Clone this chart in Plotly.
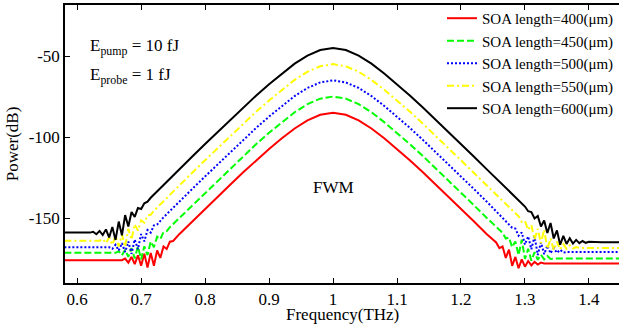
import plotly.graph_objects as go

freq = [0.58, 0.60, 0.62,
        0.625, 0.63, 0.635, 0.64, 0.645, 0.65, 0.655, 0.66, 0.665, 0.67, 0.675, 0.68, 0.685,
        0.69, 0.695, 0.70, 0.705, 0.71, 0.715, 0.72, 0.725, 0.73, 0.735, 0.74, 0.745, 0.75,
        0.76, 0.78, 0.80, 0.82, 0.84, 0.86, 0.88, 0.90, 0.92, 0.94, 0.96, 0.98, 1.00,
        1.02, 1.04, 1.06, 1.08, 1.10, 1.12, 1.14, 1.16, 1.18, 1.20, 1.22, 1.24,
        1.25, 1.255, 1.26, 1.265, 1.27, 1.275, 1.28, 1.285, 1.29, 1.295, 1.30, 1.305, 1.31,
        1.315, 1.32, 1.325, 1.33, 1.335, 1.34, 1.345, 1.35, 1.355, 1.36, 1.365, 1.37, 1.375,
        1.38, 1.385, 1.39, 1.395, 1.40,
        1.42, 1.45]

power_400 = [-176, -176, -176,
             -176, -176, -176, -176, -176, -176, -176, -176, -176, -176, -175, -177.5, -174,
             -178.5, -173, -179.5, -172, -180.5, -171.5, -179.5, -170, -174.6, -167.6, -169.1, -164.6, -164.2,
             -159.8, -152.0, -144.3, -136.7, -129.1, -121.6, -114.3, -107.4, -100.8, -94.7, -89.7, -86.3, -85,
             -86.3, -89.7, -94.7, -100.8, -107.4, -114.3, -121.6, -129.1, -136.7, -144.3, -152.0, -159.8,
             -163.7, -165.1, -168.6, -167.6, -174.6, -169.5, -179.5, -174, -181, -175.5, -180, -176.5, -179.2,
             -177, -178.7, -177.5, -178, -178, -178, -178, -178, -178, -178, -178, -178, -178,
             -178, -178, -178, -178, -178,
             -178, -178]

power_450 = [-171.5, -171.5, -171.5,
             -171.5, -171.5, -171.5, -171.5, -171.5, -171.5, -171.5, -171.5, -170.5, -173, -169.5, -174, -168.5,
             -175, -167.5, -175.5, -167.4, -172.9, -164.5, -168, -161.5, -163.1, -158.6, -158.1, -155.6, -153.7,
             -149.8, -142.0, -134.3, -126.7, -119.1, -111.6, -104.3, -97.4, -90.8, -84.7, -79.7, -76.3, -75,
             -76.3, -79.7, -84.7, -90.8, -97.4, -104.3, -111.6, -119.1, -126.7, -134.3, -142.0, -149.8,
             -153.7, -155.6, -157.6, -159.1, -162.6, -162, -168, -164.5, -172.9, -163.4, -175.2, -169, -176.3,
             -171, -175.8, -172.6, -175.5, -173.4, -175.3, -175, -175, -175, -175, -175, -175, -175,
             -175, -175, -175, -175, -175,
             -175, -175]

power_500 = [-168, -168, -168,
             -168, -168, -168, -168, -168, -168, -169, -166.5, -170, -165.5, -171, -164.5, -172,
             -163.3, -169.3, -159.9, -164.4, -157.4, -159, -154.5, -154, -151.6, -149.6, -147.6, -145.6, -143.7,
             -139.8, -132.0, -124.3, -116.7, -109.1, -101.6, -94.3, -87.4, -80.8, -74.7, -69.7, -66.3, -65,
             -66.3, -69.7, -74.7, -80.8, -87.4, -94.3, -101.6, -109.1, -116.7, -124.3, -132.0, -139.8,
             -143.7, -145.6, -147.6, -149.6, -151.6, -153.5, -156, -156.5, -160.9, -158.9, -166.4, -161.3, -169.3,
             -161.3, -172.8, -165, -172.3, -167, -171.8, -168.6, -171.5, -169.6, -171.3, -171, -171, -171,
             -171, -171, -171, -171, -171,
             -171, -171]

power_550 = [-164, -164, -164,
             -164, -164, -164, -163, -165.5, -162, -166.5, -161, -167.5, -160, -167.7, -156.7, -163.3,
             -153.8, -157.8, -151.4, -152.9, -148.4, -148, -145.5, -143.5, -141.6, -139.6, -137.6, -135.6, -133.7,
             -129.8, -122.0, -114.3, -106.7, -99.1, -91.6, -84.3, -77.4, -70.8, -64.7, -59.7, -56.3, -55,
             -56.3, -59.7, -64.7, -70.8, -77.4, -84.3, -91.6, -99.1, -106.7, -114.3, -122.0, -129.8,
             -133.7, -135.6, -137.6, -139.6, -141.6, -143.5, -145.5, -147.5, -148.9, -152.4, -151.9, -157.3, -154.3,
             -163.3, -156.7, -165.5, -157.2, -169, -162.5, -169.8, -164.5, -169.3, -166.1, -169, -166.9, -168.8,
             -167.9, -168.5, -168.5, -168.5, -168.5,
             -168.5, -168.5]

power_600 = [-159, -159, -159,
             -158.5, -160, -158, -160.5, -157, -162, -155.5, -163.5, -152.2, -160.7, -148.2, -155.2, -146.3,
             -149.3, -143.8, -144.4, -140.9, -139.9, -137.5, -135.5, -133.5, -131.6, -129.6, -127.6, -125.6, -123.7,
             -119.8, -112.0, -104.3, -96.7, -89.1, -81.6, -74.3, -67.4, -60.8, -54.7, -49.7, -46.3, -45,
             -46.3, -49.7, -54.7, -60.8, -67.4, -74.3, -81.6, -89.1, -96.7, -104.3, -112.0, -119.8,
             -123.7, -125.6, -127.6, -129.6, -131.6, -133.5, -135.5, -137.5, -139.4, -141.4, -142.9, -145.8, -146.3,
             -150.3, -148.7, -155.2, -151.5, -159.2, -153.1, -162.6, -157.6, -166.5, -161, -166, -162.5, -165.8,
             -163.5, -165.5, -164.2, -165.3, -164.7,
             -165, -165]

series_names = ["SOA length=400(\u03bcm)", "SOA length=450(\u03bcm)", "SOA length=500(\u03bcm)",
                "SOA length=550(\u03bcm)", "SOA length=600(\u03bcm)"]
series_values = [power_400, power_450, power_500, power_550, power_600]
series_colors = ["#ff0000", "#00ff00", "#0000ff", "#ffff00", "#000000"]
series_dashes = ["solid", "7px,3px", "2px,2px", "7px,3px,2px,3px", "solid"]

x_tick_vals = [0.6, 0.7, 0.8, 0.9, 1.0, 1.1, 1.2, 1.3, 1.4]
x_tick_text = ["0.6", "0.7", "0.8", "0.9", "1", "1.1", "1.2", "1.3", "1.4"]
y_tick_vals = [-150, -100, -50]
y_tick_text = ["-150", "-100", "-50"]

fig = go.Figure()
for name, vals, col, dash in zip(series_names, series_values, series_colors, series_dashes):
    fig.add_trace(go.Scatter(x=freq, y=vals, mode="lines", name=name,
                             line=dict(color=col, width=2, dash=dash)))

font_family = "Liberation Serif"
fig.update_layout(
    width=619, height=327,
    margin=dict(l=65, r=0, t=5, b=44),
    paper_bgcolor="white", plot_bgcolor="white",
    font=dict(family=font_family, color="black", size=17),
    showlegend=True,
    legend=dict(x=1.0, xanchor="right", y=1.011, yanchor="top",
                bgcolor="rgba(0,0,0,0)", font=dict(size=15, family=font_family),
                tracegroupgap=0),
    xaxis=dict(range=[0.581, 1.447], tickvals=x_tick_vals, ticktext=x_tick_text,
               ticks="inside", ticklen=5, tickwidth=1, tickcolor="black",
               showline=True, linecolor="black", linewidth=1.5, mirror="ticks",
               showgrid=False, zeroline=False, tickfont=dict(size=17, family=font_family),
               automargin=False),
    yaxis=dict(range=[-190.1, -18.5], tickvals=y_tick_vals, ticktext=y_tick_text,
               ticks="inside", ticklen=5, tickwidth=1, tickcolor="black",
               showline=True, linecolor="black", linewidth=1.5, mirror=False,
               showgrid=False, zeroline=False, tickfont=dict(size=17, family=font_family),
               automargin=False,
               title=dict(text="Power(dB)", font=dict(size=17, family=font_family), standoff=6)),
)

fig.add_annotation(x=0.5, y=-0.112, xref="paper", yref="paper", xanchor="center", yanchor="middle",
                   text="Frequency(THz)", showarrow=False,
                   font=dict(size=17, family=font_family))
fig.add_annotation(x=0.617, y=-44.5, xref="x", yref="y", xanchor="left", yanchor="middle",
                   text="E<sub>pump</sub> = 10 fJ", showarrow=False,
                   font=dict(size=17, family=font_family))
fig.add_annotation(x=0.617, y=-62.5, xref="x", yref="y", xanchor="left", yanchor="middle",
                   text="E<sub>probe</sub> = 1 fJ", showarrow=False,
                   font=dict(size=17, family=font_family))
fig.add_annotation(x=1.0, y=-131, xref="x", yref="y", xanchor="center", yanchor="middle",
                   text="FWM", showarrow=False, font=dict(size=17, family=font_family))

fig.write_html("out.html", config={"displayModeBar": False},
               post_script="document.body.style.margin='0px';")
